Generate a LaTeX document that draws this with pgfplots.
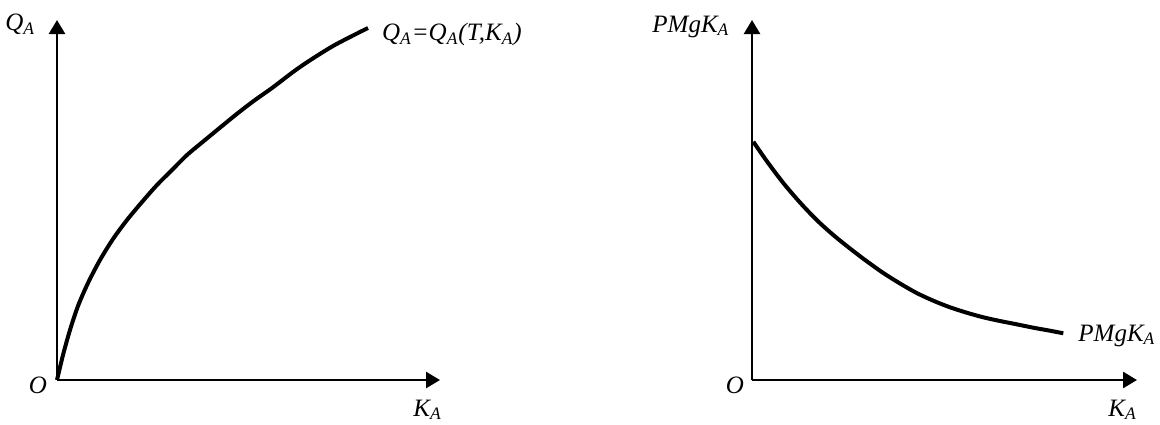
\documentclass[border=0pt]{standalone}
\usepackage{fontspec}
\setmainfont{Liberation Serif}
\usepackage{pgfplots}
\pgfplotsset{compat=1.18}
\usetikzlibrary{arrows.meta}

% Total product of capital (left) and its marginal product (right)
\pgfplotstableread{
x y
0 0
6 25
13 50
21 74
31 97
43 120
56 141
70 160
85 178
100 195
115 210
130 225
148 240
165 254
181 267
198 280
215 292
243 313
276 334
311 352
}\totalproduct

\pgfplotstableread{
x y
1.3 238.3
14.7 219
31.3 197
48 177.5
64.7 160
81.3 145
98 131.5
114.7 118.8
131.3 107
148 96.5
164.7 87
181.3 79.3
198 72.7
214.7 67.3
231.3 62.7
248 59
264.7 55.7
281.3 52.3
298 49.3
311.3 46.7
}\marginalproduct

\tikzset{lab/.style={font=\fontsize{12.5}{15}\selectfont\itshape, inner sep=0pt}}

\pgfplotsset{
  econ/.style={
    x=0.5pt, y=0.5pt,
    ymin=0, ymax=360,
    axis lines=left,
    axis line style={line width=1.3pt, -{Triangle[length=7pt,width=8pt]}},
    ticks=none, clip=false,
  },
  curve/.style={black, line width=2pt, smooth, no marks},
}

\begin{document}
\begin{tikzpicture}
\useasboundingbox (0,0) rectangle (580pt,-212pt);

\begin{axis}[econ, at={(28.5pt,-190pt)}, anchor=south west, xmin=0, xmax=383]
  \addplot[curve] table {\totalproduct};
  \node[lab, anchor=base west] at (axis cs:324.7,339.5) {Q\textsubscript{A}=Q\textsubscript{A}(T,K\textsubscript{A})};
  \node[lab, anchor=base west] at (axis cs:-52,349.5) {Q\textsubscript{A}};
  \node[lab, anchor=base] at (axis cs:-19,-13) {O};
  \node[lab, anchor=base west] at (axis cs:356,-36) {K\textsubscript{A}};
\end{axis}

\begin{axis}[econ, at={(376pt,-190pt)}, anchor=south west, xmin=0, xmax=385]
  \addplot[curve] table {\marginalproduct};
  \node[lab, anchor=base west] at (axis cs:326,39) {PMgK\textsubscript{A}};
  \node[lab, anchor=base west] at (axis cs:-100,347.7) {PMgK\textsubscript{A}};
  \node[lab, anchor=base] at (axis cs:-17,-13) {O};
  \node[lab, anchor=base west] at (axis cs:356,-36) {K\textsubscript{A}};
\end{axis}
\end{tikzpicture}
\end{document}
